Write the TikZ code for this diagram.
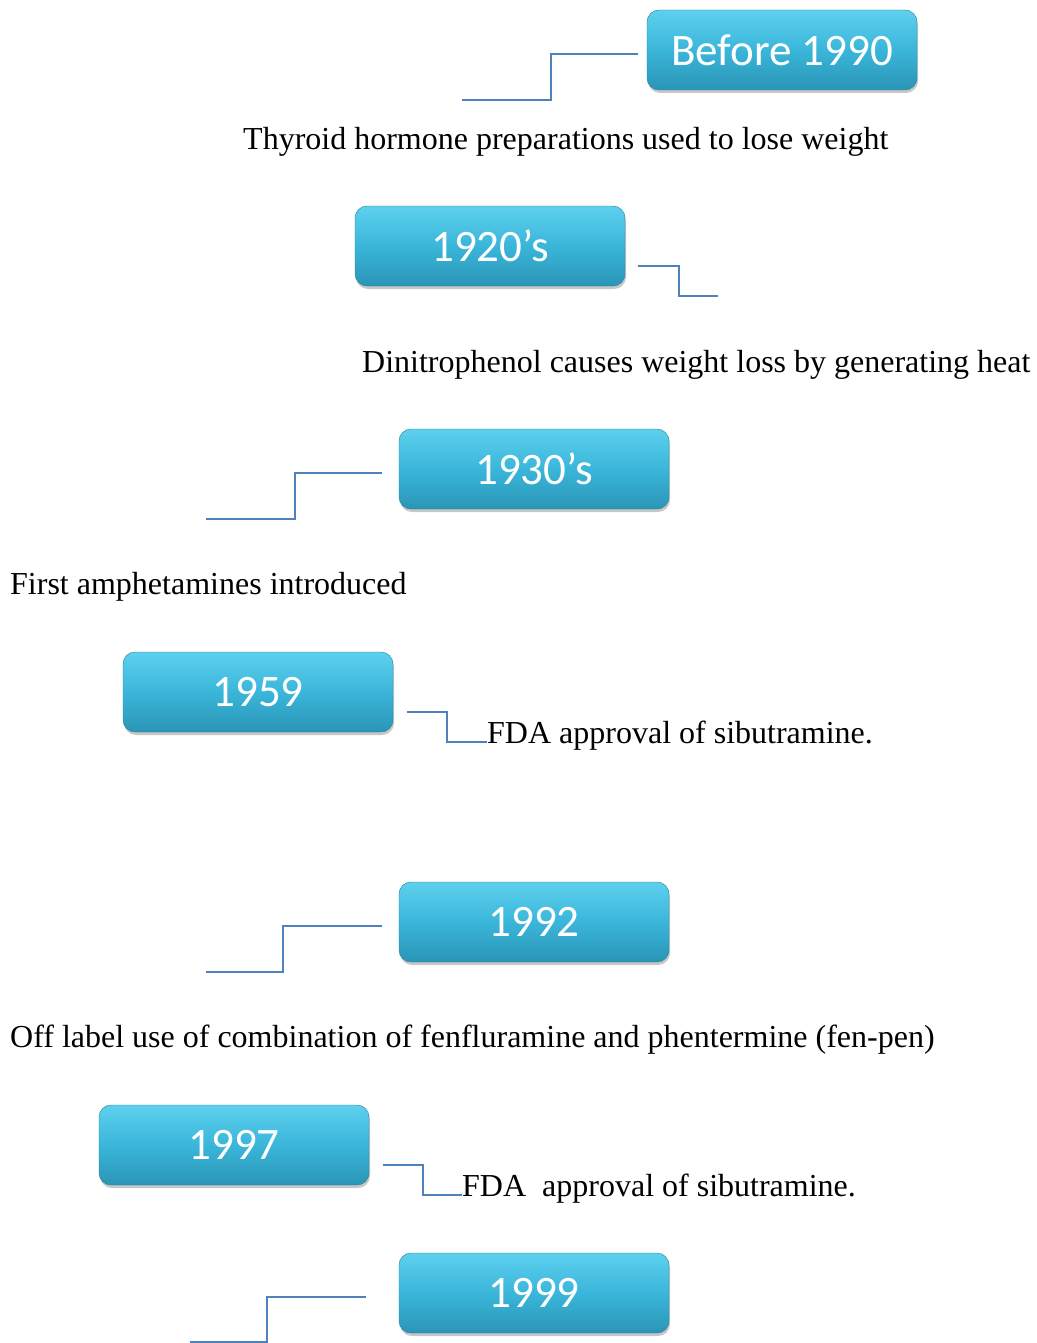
\documentclass[tikz,border=0pt]{standalone}
\usepackage{fontspec}
\setmainfont{Liberation Serif}
\newfontfamily\boxfont{Carlito}
\usetikzlibrary{shadows}
\definecolor{linkblue}{HTML}{4F81BD}
\definecolor{boxtop}{HTML}{5ED0EE}
\definecolor{boxmid}{HTML}{3AB6DA}
\definecolor{boxbot}{HTML}{2A95B6}
\tikzset{
  yearbox/.style={rounded corners=12pt, minimum width=270pt, minimum height=80pt,
    inner sep=0pt, top color=boxtop, bottom color=boxbot, middle color=boxmid,
    draw=boxbot!85!black, line width=0.4pt,
    drop shadow={shadow xshift=1pt, shadow yshift=-3pt, opacity=0.22, fill=black},
    text=white, font=\boxfont\fontsize{45}{45}\selectfont},
  link/.style={draw=linkblue, line width=2pt},
  desc/.style={anchor=base west, inner sep=0pt, font=\fontsize{32}{34}\selectfont}
}
\begin{document}
\begin{tikzpicture}[x=1pt,y=-1pt]
\useasboundingbox (0,0) rectangle (1036,1343);
% boxes
\node[yearbox] (b1) at (782,50) {Before 1990};
\node[yearbox] (b2) at (490,246) {1920’s};
\node[yearbox] (b3) at (534,469) {1930’s};
\node[yearbox] (b4) at (258,692) {1959};
\node[yearbox] (b5) at (534,922) {1992};
\node[yearbox] (b6) at (234,1145) {1997};
\node[yearbox] (b7) at (534,1293) {1999};
% texts
\node[desc] (t1) at (243,150) {Thyroid hormone preparations used to lose weight};
\node[desc] (t2) at (362,372) {Dinitrophenol causes weight loss by generating heat};
\node[desc] (t3) at (10,594) {First amphetamines introduced};
\node[desc] (t4) at (487,743) {FDA approval of sibutramine.};
\node[desc] (t5) at (10,1047) {Off label use of combination of fenfluramine and phentermine (fen-pen)};
\node[desc] (t6) at (462,1196) {FDA\ \ approval of sibutramine.};
% connector end points
\coordinate (c1a) at (638,54);  \coordinate (c1b) at (462,100);
\coordinate (c2a) at (638,266); \coordinate (c2b) at (718,296);
\coordinate (c3a) at (382,473); \coordinate (c3b) at (206,519);
\coordinate (c4a) at (407,712); \coordinate (c4b) at (487,742);
\coordinate (c5a) at (382,926); \coordinate (c5b) at (206,972);
\coordinate (c6a) at (383,1165); \coordinate (c6b) at (462,1195);
\coordinate (c7a) at (366,1297); \coordinate (c7b) at (190,1342);
% connectors
\draw[link] (c1a) -- (551,54) -- (551,100) -- (c1b);
\draw[link] (c2a) -- (679,266) -- (679,296) -- (c2b);
\draw[link] (c3a) -- (295,473) -- (295,519) -- (c3b);
\draw[link] (c4a) -- (447,712) -- (447,742) -- (c4b);
\draw[link] (c5a) -- (283,926) -- (283,972) -- (c5b);
\draw[link] (c6a) -- (423,1165) -- (423,1195) -- (c6b);
\draw[link] (c7a) -- (267,1297) -- (267,1342) -- (c7b);
\end{tikzpicture}
\end{document}
